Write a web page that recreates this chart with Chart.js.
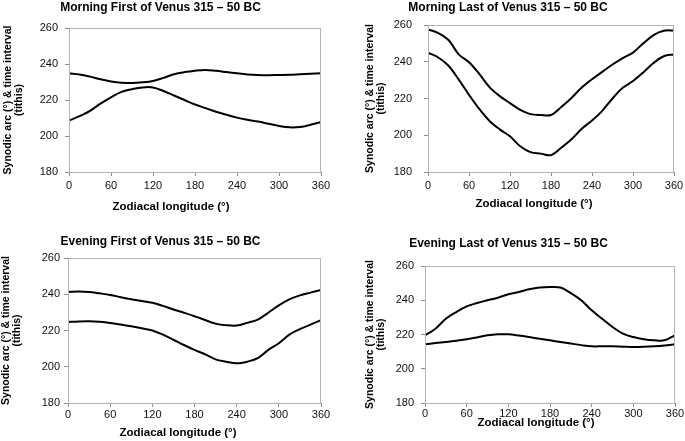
<!DOCTYPE html>
<html>
<head>
<meta charset="utf-8">
<script src="https://cdn.jsdelivr.net/npm/chart.js@4.4.1/dist/chart.umd.min.js"></script>
<style>
  html, body { margin: 0; padding: 0; background: #fff; overflow: hidden; }
  body { width: 685px; height: 441px; position: relative; }
  canvas { position: absolute; }
</style>
</head>
<body>
<canvas id="mf"></canvas>
<canvas id="ml"></canvas>
<canvas id="ef"></canvas>
<canvas id="el"></canvas>
<script>
// zodiacal longitude (deg), one value every 15 deg
const longitudes = [0, 15, 30, 45, 60, 75, 90, 105, 120, 135, 150, 165, 180, 195, 210, 225, 240, 255, 270, 285, 300, 315, 330, 345, 360];
const xTickValues = [0, 60, 120, 180, 240, 300, 360];
const yTickValues = [180, 200, 220, 240, 260];

const morningFirstUpper = [234.8, 234.2, 233, 231.5, 230.3, 229.6, 229.4, 229.8, 230.6, 232.3, 234.3, 235.5, 236.3, 236.7, 236.2, 235.5, 234.8, 234.2, 233.9, 233.8, 233.9, 234, 234.3, 234.6, 234.8];
const morningFirstLower = [208.5, 211, 214, 218, 221.5, 224.5, 226, 227, 227, 225, 222.5, 220, 217.5, 215.5, 213.5, 211.8, 210.2, 209, 208, 206.8, 205.6, 204.8, 205, 206.2, 207.8];

const morningLastUpper = [257.6, 255.6, 251.8, 244, 239.7, 233.4, 226.2, 221.3, 217.5, 213.8, 211.5, 211, 211, 215.4, 220.3, 226, 230.5, 234.5, 238.5, 242, 245, 250, 254.5, 256.9, 257];
const morningLastLower = [245, 242.3, 237.8, 230.3, 222, 214.3, 207.8, 203.2, 199.4, 194, 190.8, 190, 189.2, 193.2, 197.8, 203.5, 208, 213.3, 220, 225.8, 229.5, 234.2, 239.3, 243, 244];

const eveningFirstUpper = [241.3, 241.5, 241.3, 240.5, 239.6, 238.4, 237.2, 236.3, 235.3, 233.6, 231.6, 229.8, 227.9, 225.8, 223.8, 222.9, 222.7, 224.2, 226, 229.8, 233.9, 237.2, 239.4, 240.9, 242.4];
const eveningFirstLower = [224.7, 225, 225.1, 224.8, 224.2, 223.3, 222.3, 221.2, 220, 217.7, 214.9, 212, 209.3, 206.9, 204.1, 202.8, 201.9, 202.8, 204.7, 209.3, 213, 217.7, 220.8, 223.2, 225.7];

const eveningLastUpper = [219.5, 223.4, 229.2, 233.1, 236.4, 238.4, 240, 241.5, 243.5, 244.8, 246.4, 247.4, 247.7, 247.4, 244.2, 240, 234.1, 229.2, 224.4, 220.5, 218.5, 217.2, 216.6, 216.6, 219.5];
const eveningLastLower = [214.3, 215, 215.6, 216.3, 217.2, 218.3, 219.5, 220.1, 220.1, 219.4, 218.5, 217.5, 216.6, 215.6, 214.7, 213.8, 213.1, 213.1, 213.1, 212.9, 212.7, 212.8, 213.1, 213.6, 214.3];

const yAxisTitle = ['Synodic arc (°) & time interval', '(tithis)'];
const xAxisTitle = 'Zodiacal longitude (°)';

const FONT = "'Liberation Sans', Arial, sans-serif";

// light frame round the plot area + x axis title
const framePlugin = {
    id: 'frame',
    afterDraw(chart, args, opts) {
        const { ctx, chartArea: a } = chart;
        ctx.save();
        ctx.strokeStyle = '#b4b4b4';
        ctx.lineWidth = 1;
        ctx.strokeRect(Math.round(a.left) + 0.5, Math.round(a.top) + 0.5, Math.round(a.right - a.left) - 1, Math.round(a.bottom - a.top));
        ctx.fillStyle = '#000';
        ctx.font = 'bold 11.5px ' + FONT;
        ctx.textAlign = 'center';
        ctx.textBaseline = 'middle';
        ctx.fillText(opts.text, opts.x, opts.y);
        ctx.restore();
    }
};

const panels = [
    { id: 'mf', title: 'Morning First of Venus 315 – 50 BC', upper: morningFirstUpper, lower: morningFirstLower,
      left: 0, top: 0, width: 374, height: 215, yWidth: 69, xHeight: 43, padRight: 53,
      titleTop: 0, titleBottom: 13.6, yTitlePad: 2, yTickPad: 7, xTickPad: 3.5, xTitleX: 171, xTitleY: 207 },
    { id: 'ml', title: 'Morning Last of Venus 315 – 50 BC', upper: morningLastUpper, lower: morningLastLower,
      left: 342, top: 0, width: 402, height: 215, yWidth: 86, xHeight: 43, padRight: 70,
      titleTop: 0, titleBottom: 10.6, yTitlePad: 22, yTickPad: 12, xTickPad: 3, xTitleX: 192, xTitleY: 204 },
    { id: 'ef', title: 'Evening First of Venus 315 – 50 BC', upper: eveningFirstUpper, lower: eveningFirstLower,
      left: 0, top: 220, width: 364, height: 221, yWidth: 68, xHeight: 38, padRight: 43,
      titleTop: 14.8, titleBottom: 8.8, yTitlePad: 0, yTickPad: 4, xTickPad: 1.5, xTitleX: 178, xTitleY: 213 },
    { id: 'el', title: 'Evening Last of Venus 315 – 50 BC', upper: eveningLastUpper, lower: eveningLastLower,
      left: 342, top: 220, width: 386, height: 221, yWidth: 83, xHeight: 38, padRight: 53,
      titleTop: 16.8, titleBottom: 14.8, yTitlePad: 22, yTickPad: 7, xTickPad: 0, xTitleX: 194, xTitleY: 203 }
];

const makeSeries = values => ({
    data: longitudes.map((x, i) => ({ x: x, y: values[i] })),
    borderColor: '#000',
    borderWidth: 2,
    pointRadius: 0,
    tension: 0.35,
    fill: false
});

panels.forEach(p => {
    const canvas = document.getElementById(p.id);
    canvas.width = p.width;
    canvas.height = p.height;
    canvas.style.left = p.left + 'px';
    canvas.style.top = p.top + 'px';

    new Chart(canvas, {
        type: 'line',
        data: { datasets: [makeSeries(p.upper), makeSeries(p.lower)] },
        plugins: [framePlugin],
        options: {
            responsive: false,
            animation: false,
            events: [],
            layout: { padding: { left: 0, right: p.padRight, top: 0, bottom: 0 } },
            plugins: {
                legend: { display: false },
                tooltip: { enabled: false },
                title: {
                    display: true,
                    text: p.title,
                    color: '#000',
                    font: { family: FONT, size: 12, weight: 'bold', lineHeight: 1.2 },
                    padding: { top: p.titleTop, bottom: p.titleBottom }
                },
                frame: { text: xAxisTitle, x: p.xTitleX, y: p.xTitleY }
            },
            scales: {
                x: {
                    type: 'linear',
                    min: 0,
                    max: 360,
                    afterBuildTicks: s => { s.ticks = xTickValues.map(v => ({ value: v })); },
                    afterFit: s => { s.height = p.xHeight; },
                    grid: { drawOnChartArea: false, drawTicks: true, tickLength: 4, color: '#8c8c8c' },
                    border: { display: true, color: '#8c8c8c' },
                    ticks: { color: '#111', padding: p.xTickPad, maxRotation: 0, font: { family: FONT, size: 11 } }
                },
                y: {
                    min: 180,
                    max: 260,
                    afterBuildTicks: s => { s.ticks = yTickValues.map(v => ({ value: v })); },
                    afterFit: s => { s.width = p.yWidth; },
                    grid: { drawOnChartArea: false, drawTicks: true, tickLength: 4, color: '#8c8c8c' },
                    border: { display: true, color: '#8c8c8c' },
                    ticks: { color: '#111', padding: p.yTickPad, font: { family: FONT, size: 11 } },
                    title: {
                        display: true,
                        text: yAxisTitle,
                        color: '#000',
                        padding: { top: p.yTitlePad, bottom: 0 },
                        font: { family: FONT, size: 10.5, weight: 'bold', lineHeight: 1.1 }
                    }
                }
            }
        }
    });
});
</script>
</body>
</html>
